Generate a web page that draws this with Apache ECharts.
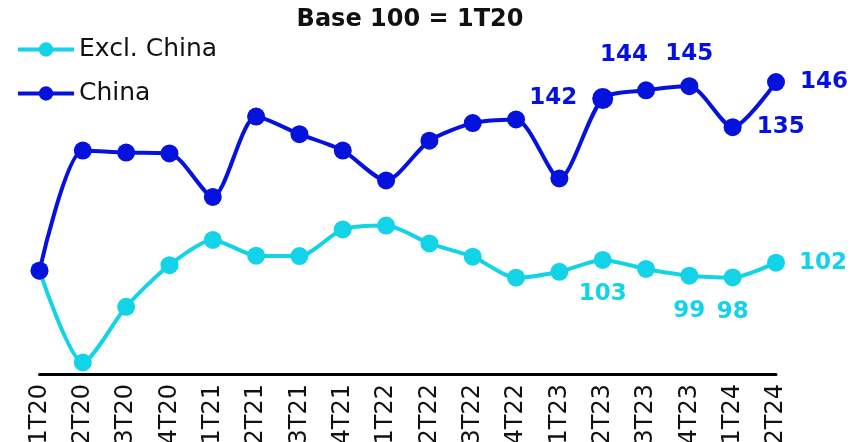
<!DOCTYPE html>
<html>
<head>
<meta charset="utf-8">
<script src="https://cdn.jsdelivr.net/npm/echarts@6/dist/echarts.min.js"></script>
<style>
  html, body { margin: 0; padding: 0; background: #fff; }
  #chart { width: 851px; height: 442px; }
</style>
</head>
<body>
<div id="chart"></div>
<script>
const categories = ["1T20", "2T20", "3T20", "4T20", "1T21", "2T21", "3T21", "4T21", "1T22", "2T22", "3T22", "4T22", "1T23", "2T23", "3T23", "4T23", "1T24", "2T24"];
const chinaValues = [100, 129.3, 128.8, 128.6, 118.0, 137.6, 133.3, 129.3, 122.0, 131.7, 136.0, 136.9, 122.5, 142, 144, 145, 135, 146];
const exclChinaValues = [100, 73.8, 89.7, 101.6, 108.8, 104.3, 104.2, 111.8, 112.9, 107.8, 104.0, 98.0, 99.7, 103.1, 100.5, 98.6, 98.1, 102.3];
const chinaLabels = ["", "", "", "", "", "", "", "", "", "", "", "", "", "142", "144", "145", "135", "146"];
const exclChinaLabels = ["", "", "", "", "", "", "", "", "", "", "", "", "", "103", "", "99", "98", "102"];

const chinaColor = "#0512dd";
const exclColor = "#12d3e8";

// where each label sits relative to its point
const chinaLabelStyle = {
  13: { position: "left", distance: 15 },
  14: { position: "top", distance: 15, offset: [-22, 0] },
  15: { position: "top", distance: 12 },
  16: { position: "right", distance: 15 },
  17: { position: "right", distance: 15 },
};
const exclLabelStyle = {
  13: { position: "bottom", distance: 14 },
  15: { position: "bottom", distance: 15 },
  16: { position: "bottom", distance: 14 },
  17: { position: "right", distance: 14 },
};

function buildData(values, labels, styles, color, bigIndex) {
  return values.map((v, i) => {
    const item = { value: v };
    if (labels[i]) {
      item.label = Object.assign({
        show: true,
        formatter: labels[i],
        color: color,
        fontFamily: "DejaVu Sans",
        fontWeight: "bold",
        fontSize: 23,
      }, styles[i]);
    }
    if (i === bigIndex) item.symbolSize = 21;
    return item;
  });
}

const chart = echarts.init(document.getElementById("chart"));
chart.setOption({
  animation: false,
  title: {
    text: "Base 100 = 1T20",
    left: 405,
    textAlign: "center",
    top: 3,
    textStyle: { fontFamily: "DejaVu Sans", fontWeight: "bold", fontSize: 24, color: "#111" },
  },
  legend: {
    orient: "vertical",
    left: 11,
    top: 31,
    itemWidth: 56,
    itemHeight: 18,
    itemGap: 17,
    lineStyle: { width: 4 },
    textStyle: { fontFamily: "DejaVu Sans", fontSize: 25, color: "#111", lineHeight: 27 },
    data: ["Excl. China", "China"],
  },
  grid: {
    left: 39.5,
    right: 75,
    top: 46,
    bottom: 68,
    containLabel: false,
    outerBoundsMode: "none",
  },
  xAxis: {
    type: "category",
    data: categories,
    boundaryGap: false,
    axisLine: { lineStyle: { color: "#000", width: 3 } },
    axisTick: { show: false },
    axisLabel: {
      rotate: 90,
      margin: 10,
      interval: 0,
      fontFamily: "DejaVu Sans",
      fontSize: 24,
      color: "#111",
    },
  },
  yAxis: [
    { type: "value", min: 74.8, max: 154.8, show: false },
    { type: "value", min: 70.5, max: 164.2, show: false },
  ],
  series: [
    {
      name: "Excl. China",
      type: "line",
      yAxisIndex: 1,
      smooth: 0.25,
      symbol: "circle",
      symbolSize: 18,
      color: exclColor,
      lineStyle: { width: 4, color: exclColor },
      itemStyle: { color: exclColor },
      data: buildData(exclChinaValues, exclChinaLabels, exclLabelStyle, exclColor, -1),
      z: 2,
    },
    {
      name: "China",
      type: "line",
      yAxisIndex: 0,
      smooth: 0.25,
      symbol: "circle",
      symbolSize: 18,
      color: chinaColor,
      lineStyle: { width: 4, color: chinaColor },
      itemStyle: { color: chinaColor },
      data: buildData(chinaValues, chinaLabels, chinaLabelStyle, chinaColor, 13),
      z: 3,
    },
  ],
});
</script>
</body>
</html>
